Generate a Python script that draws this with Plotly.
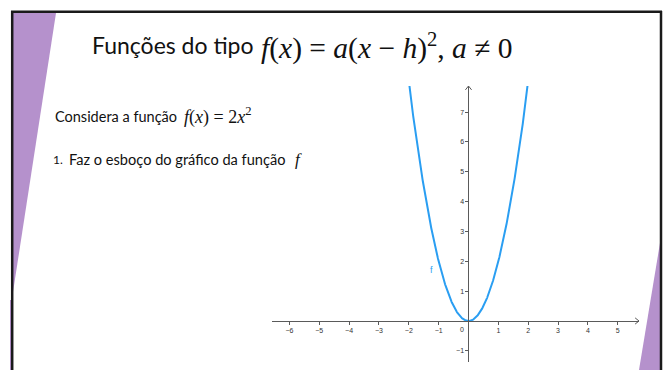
import numpy as np
import plotly.graph_objects as go

# Function f(x) = a * x^2
a_coef = 2
x_ticks = [-6, -5, -4, -3, -2, -1, 1, 2, 3, 4, 5]
y_ticks = [-1, 1, 2, 3, 4, 5, 6, 7]
x_range = [-6.583, 5.712]
y_range = [-1.374, 7.873]

W, H = 667, 370
L, R, T, B = 272, 639, 86, 362   # plot area in pixels

def px(x):
    return (x - L) / (R - L)

def py(y):
    return (B - y) / (B - T)

def minus(v):
    return str(v).replace("-", "\u2212")

xs = np.linspace(-2.2, 2.2, 601)
ys = a_coef * xs ** 2

blue = "#2a9ef2"
axis_col = "#5a5a5a"
purple = "#b591cc"

fig = go.Figure()
fig.add_trace(go.Scatter(x=xs, y=ys, mode="lines",
                         line=dict(color=blue, width=2), hoverinfo="skip"))

# arrow heads at the ends of both axes
ah = 0.13
fig.add_trace(go.Scatter(x=[x_range[1] - ah, x_range[1], x_range[1] - ah],
                         y=[ah * 0.8, 0, -ah * 0.8], mode="lines",
                         line=dict(color=axis_col, width=1), cliponaxis=False,
                         hoverinfo="skip"))
fig.add_trace(go.Scatter(x=[-ah * 0.8, 0, ah * 0.8],
                         y=[y_range[1] - ah, y_range[1], y_range[1] - ah], mode="lines",
                         line=dict(color=axis_col, width=1), cliponaxis=False,
                         hoverinfo="skip"))

tick_font = dict(family="Liberation Sans", size=7, color="#333")
x_pos = (0 - y_range[0]) / (y_range[1] - y_range[0])
y_pos = (0 - x_range[0]) / (x_range[1] - x_range[0])

fig.update_layout(
    width=W, height=H,
    margin=dict(l=L, r=W - R, t=T, b=H - B),
    paper_bgcolor="white", plot_bgcolor="white",
    showlegend=False,
    xaxis=dict(range=x_range, anchor="free", position=x_pos,
               showline=True, linecolor=axis_col, linewidth=1,
               ticks="outside", ticklen=3, tickcolor=axis_col, tickwidth=1,
               tickvals=x_ticks, ticktext=[minus(v) for v in x_ticks],
               tickfont=tick_font, showgrid=False, zeroline=False,
               fixedrange=True),
    yaxis=dict(range=y_range, anchor="free", position=y_pos,
               showline=True, linecolor=axis_col, linewidth=1,
               ticks="outside", ticklen=3, tickcolor=axis_col, tickwidth=1,
               tickvals=y_ticks, ticktext=[minus(v) for v in y_ticks],
               tickfont=tick_font, showgrid=False, zeroline=False,
               fixedrange=True),
)

# origin label and curve name
fig.add_annotation(x=-0.22, y=-0.1, xref="x", yref="y", text="0", showarrow=False,
                   xanchor="center", yanchor="top", font=tick_font)
fig.add_annotation(x=-1.256, y=1.71, xref="x", yref="y", text="f", showarrow=False,
                   font=dict(family="Liberation Sans", size=9, color=blue))

# slide frame and purple accents
shapes = [
    dict(type="path", path=f"M {px(13)} {py(13)} L {px(56)} {py(13)} L {px(13)} {py(292)} Z",
         fillcolor=purple, line=dict(width=0)),
    dict(type="path", path=f"M {px(10)} {py(300)} L {px(11)} {py(300)} L {px(11)} {py(370)} L {px(10)} {py(370)} Z",
         fillcolor=purple, line=dict(width=0)),
    dict(type="path", path=f"M {px(660)} {py(243)} L {px(660)} {py(370)} L {px(639)} {py(370)} Z",
         fillcolor=purple, line=dict(width=0)),
    dict(type="line", x0=px(11), x1=px(662), y0=py(11.8), y1=py(11.8),
         line=dict(color="#1a1a1a", width=2.5)),
    dict(type="line", x0=px(12.2), x1=px(12.2), y0=py(11), y1=py(371),
         line=dict(color="#1a1a1a", width=2.5)),
    dict(type="line", x0=px(661), x1=px(661), y0=py(11), y1=py(371),
         line=dict(color="#1a1a1a", width=2.5)),
]
for s in shapes:
    s.update(xref="paper", yref="paper", layer="above")
fig.update_layout(shapes=shapes)

sans = "Lato"
serif = "Liberation Serif"
txt = "#111"

def label(x, y, text, family, size):
    fig.add_annotation(x=px(x), y=py(y), xref="paper", yref="paper", text=text,
                       showarrow=False, xanchor="left", yanchor="middle",
                       font=dict(family=family, size=size, color=txt))

# title
label(90, 45, "Funções do tipo", sans, 23)
label(259, 46, "<i>f</i>(<i>x</i>) = <i>a</i>(<i>x</i> \u2212 <i>h</i>)<sup>2</sup>, <i>a</i> \u2260 0", serif, 29.5)

# body text
label(53, 116, "Considera a função", sans, 14.5)
label(182, 116, "<i>f</i>(<i>x</i>) = 2<i>x</i><sup>2</sup>", serif, 18)
label(51, 159, "1.", sans, 12)
label(67, 159, "Faz o esboço do gráfico da função", sans, 14.6)
label(293, 159, "<i>f</i>", serif, 17)

fig.write_html("out.html")
